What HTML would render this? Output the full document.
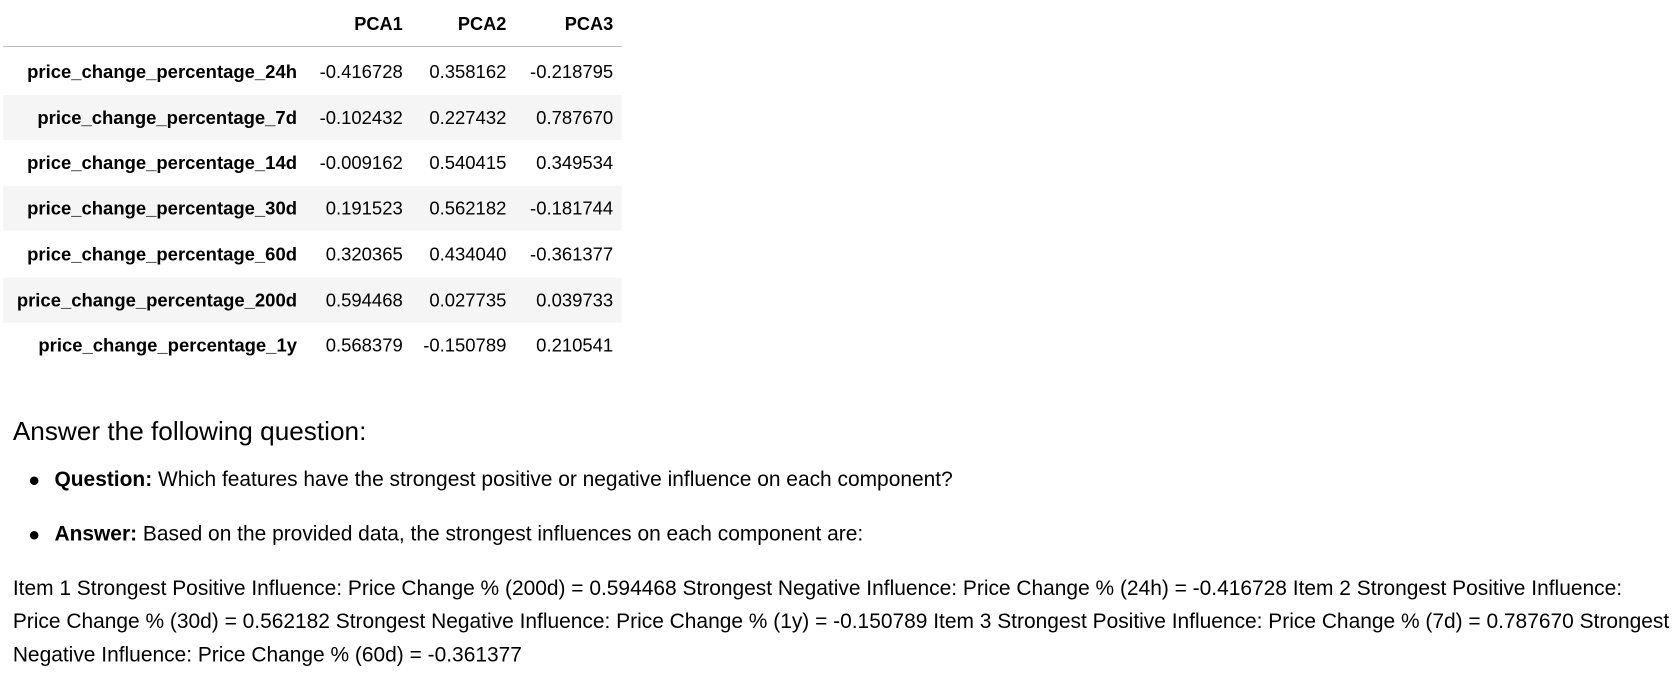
<!DOCTYPE html>
<html><head><meta charset="utf-8">
<style>
body{margin:0;width:1675px;height:692px;background:#fff;font-family:"Liberation Sans",sans-serif;color:#000;position:relative;overflow:hidden}
#wrap{position:absolute;left:0;top:0;width:1568px;height:648px;transform:scale(1.0683);transform-origin:0 0}
.a{position:absolute;white-space:nowrap}
.row{position:absolute;left:3px;width:579px;height:42px}
.stripe{background:#f5f5f5}
.c{position:absolute;font-size:17.3px;line-height:42px;text-align:right}
.i{font-weight:bold;right:304px}
.p1{right:205px}.p2{right:108px}.p3{right:8px}
.hd{font-weight:bold;font-size:17px}
.t{font-size:19.6px;line-height:31px}
</style></head><body>
<div id="wrap">
<div>
<div class="a hd" style="left:0;width:377px;text-align:right;top:13px">PCA1</div>
<div class="a hd" style="left:0;width:474px;text-align:right;top:13px">PCA2</div>
<div class="a hd" style="left:0;width:574px;text-align:right;top:13px">PCA3</div>
<div class="a" style="left:3px;top:43px;width:579px;height:1px;background:#bdbdbd"></div>
<div id="rows"></div>
</div>
<div class="a" style="left:12px;top:391px;font-size:24.5px">Answer the following question:</div>
<div class="a t" style="left:28px;top:434px"><span style="position:absolute;left:0;top:12px;width:8px;height:8px;border-radius:50%;background:#000"></span><span style="margin-left:23px"><b>Question:</b> Which features have the strongest positive or negative influence on each component?</span></div>
<div class="a t" style="left:28px;top:485px"><span style="position:absolute;left:0;top:12px;width:8px;height:8px;border-radius:50%;background:#000"></span><span style="margin-left:23px"><b>Answer:</b> Based on the provided data, the strongest influences on each component are:</span></div>
<div class="a t" style="left:12px;top:536px">Item 1 Strongest Positive Influence: Price Change % (200d) = 0.594468 Strongest Negative Influence: Price Change % (24h) = -0.416728 Item 2 Strongest Positive Influence:<br>Price Change % (30d) = 0.562182 Strongest Negative Influence: Price Change % (1y) = -0.150789 Item 3 Strongest Positive Influence: Price Change % (7d) = 0.787670 Strongest<br>Negative Influence: Price Change % (60d) = -0.361377</div>
</div>
<script>
const features=["price_change_percentage_24h","price_change_percentage_7d","price_change_percentage_14d","price_change_percentage_30d","price_change_percentage_60d","price_change_percentage_200d","price_change_percentage_1y"];
const pca1=["-0.416728","-0.102432","-0.009162","0.191523","0.320365","0.594468","0.568379"];
const pca2=["0.358162","0.227432","0.540415","0.562182","0.434040","0.027735","-0.150789"];
const pca3=["-0.218795","0.787670","0.349534","-0.181744","-0.361377","0.039733","0.210541"];
const host=document.getElementById('rows');
features.forEach((f,k)=>{
 const r=document.createElement('div');
 r.className='row'+(k%2?' stripe':'');
 r.style.top=(46+k*42.7)+'px';
 
 
 [[f,'i'],[pca1[k],'p1'],[pca2[k],'p2'],[pca3[k],'p3']].forEach(([v,c])=>{
  const d=document.createElement('div');
  d.className='c '+c;d.textContent=v;
  
  
  r.appendChild(d);
 });
 host.appendChild(r);
});
</script>
</body></html>
